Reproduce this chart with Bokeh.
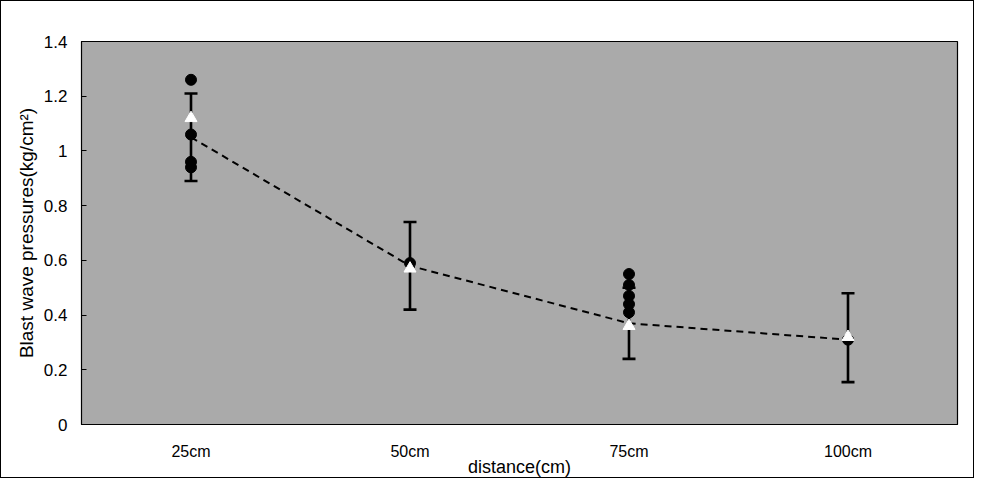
from bokeh.plotting import figure
from bokeh.models import (ColumnDataSource, FactorRange, Whisker, TeeHead,
                          FixedTicker, NumeralTickFormatter, Range1d)
from bokeh.embed import file_html
from bokeh.resources import INLINE

# ---- data ----
distances = ["25cm", "50cm", "75cm", "100cm"]
mean_pressure = [1.05, 0.58, 0.37, 0.31]
err_lower = [0.89, 0.42, 0.24, 0.155]
err_upper = [1.21, 0.74, 0.50, 0.48]

# individual measurements (black dots)
meas_dist = ["25cm", "25cm", "25cm", "25cm", "50cm",
             "75cm", "75cm", "75cm", "75cm", "75cm", "100cm"]
meas_value = [1.26, 1.06, 0.96, 0.94, 0.59,
              0.55, 0.51, 0.47, 0.44, 0.41, 0.31]

# white triangle markers
tri_dist = ["25cm", "50cm", "75cm", "100cm"]
tri_value = [1.12, 0.57, 0.36, 0.32]

y_ticks = [0, 0.2, 0.4, 0.6, 0.8, 1.0, 1.2, 1.4]

FONT = "Liberation Sans"

p = figure(width=974, height=478, x_range=FactorRange(factors=distances, range_padding=0),
           y_range=Range1d(0, 1.4), output_backend="svg", toolbar_location=None,
           min_border_left=80, min_border_right=18, min_border_top=40, min_border_bottom=42)
p.styles = {"border": "1px solid black"}

p.background_fill_color = "#aaaaaa"
p.border_fill_color = "white"
p.outline_line_color = "black"
p.outline_line_width = 1.2
p.xgrid.visible = False
p.ygrid.visible = False

# y axis
p.yaxis.ticker = FixedTicker(ticks=y_ticks)
p.yaxis.formatter = NumeralTickFormatter(format="0.[0]")
p.yaxis.major_tick_in = 5
p.yaxis.major_tick_out = 0
p.yaxis.major_tick_line_color = "black"
p.yaxis.minor_tick_line_color = None
p.yaxis.major_label_standoff = 14
p.yaxis.axis_label = "Blast wave pressures(kg/cm²)"
p.yaxis.axis_label_standoff = 4
p.yaxis.axis_label_text_font = FONT
p.yaxis.axis_label_text_font_style = "normal"
p.yaxis.axis_label_text_font_size = "19px"
p.yaxis.axis_label_text_color = "black"
p.yaxis.major_label_text_font = FONT
p.yaxis.major_label_text_font_size = "17px"
p.yaxis.major_label_text_color = "black"
p.yaxis.axis_line_color = "black"

# x axis
p.xaxis.axis_label = "distance(cm)"
p.xaxis.major_tick_line_color = None
p.xaxis.minor_tick_line_color = None
p.xaxis.major_label_standoff = 12
p.xaxis.axis_label_standoff = -6
p.xaxis.axis_label_text_font = FONT
p.xaxis.axis_label_text_font_style = "normal"
p.xaxis.axis_label_text_font_size = "18px"
p.xaxis.axis_label_text_color = "black"
p.xaxis.major_label_text_font = FONT
p.xaxis.major_label_text_font_size = "16px"
p.xaxis.major_label_text_color = "black"
p.xaxis.axis_line_color = "black"

# dashed trend line through means
p.line(x=distances, y=mean_pressure, line_color="black", line_width=2, line_dash="7 5")

# error bars
err_src = ColumnDataSource(dict(x=distances, lo=err_lower, hi=err_upper))
whisk = Whisker(source=err_src, base="x", lower="lo", upper="hi", dimension="height",
                line_color="black", line_width=2.6,
                lower_head=TeeHead(size=13, line_color="black", line_width=2.6),
                upper_head=TeeHead(size=13, line_color="black", line_width=2.6))
p.add_layout(whisk)

# measurement dots
p.scatter(x=meas_dist, y=meas_value, marker="circle", size=11,
          fill_color="black", line_color="black")

# white triangles
p.scatter(x=tri_dist, y=tri_value, marker="triangle", size=12,
          fill_color="white", line_color="white")

open("out.html", "w").write(file_html(p, INLINE))
